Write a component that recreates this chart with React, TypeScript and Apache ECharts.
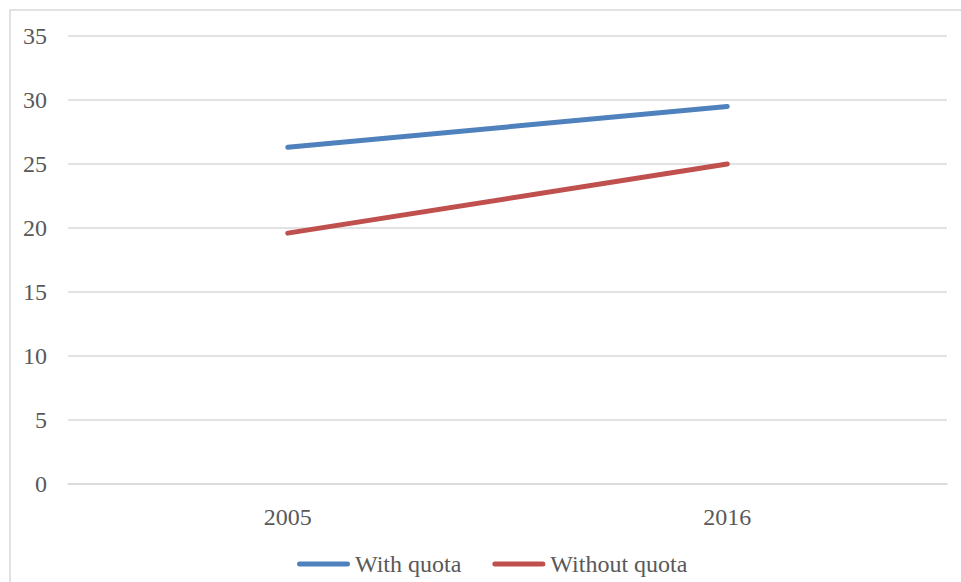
import React, { useEffect, useRef } from "react";
import * as echarts from "echarts";

const years = ["2005", "2016"];
const withQuota = [26.3, 29.5];
const withoutQuota = [19.6, 25.0];
const yTicks = { min: 0, max: 35, interval: 5 };

const FONT = "Liberation Serif";
const FONT_SIZE = 24;
const TEXT = "#595959";
const GRID = "#d9d9d9";
const BLUE = "#4f81bd";
const RED = "#c0504d";

const legendIcon =
  "path://M2.5,0 L50.5,0 A2.5,2.5 0 0 1 50.5,5 L2.5,5 A2.5,2.5 0 0 1 2.5,0 Z";

export default function App() {
  const ref = useRef<HTMLDivElement>(null);

  useEffect(() => {
    document.body.style.margin = "0";
    if (!ref.current) return;
    const chart = echarts.init(ref.current, undefined, { renderer: "svg" });
    const text = { fontFamily: FONT, fontSize: FONT_SIZE, color: TEXT };
    chart.setOption({
      animation: false,
      backgroundColor: "#ffffff",
      textStyle: { fontFamily: FONT },
      graphic: [
        {
          type: "rect",
          shape: { x: 10, y: 10, width: 1000, height: 1000 },
          style: { fill: "none", stroke: GRID, lineWidth: 1.5 },
          silent: true,
        },
      ],
      grid: { left: 68, right: 14, top: 36, bottom: 98, containLabel: false },
      legend: {
        left: 292,
        top: 547,
        itemWidth: 53,
        itemHeight: 5,
        itemGap: 31,
        icon: legendIcon,
        textStyle: { ...text, lineHeight: 24 },
        data: [
          { name: "With quota", itemStyle: { color: BLUE } },
          { name: "Without quota", itemStyle: { color: RED } },
        ],
      },
      xAxis: {
        type: "category",
        data: years,
        boundaryGap: true,
        axisLine: { show: true, lineStyle: { color: GRID, width: 1.5 } },
        axisTick: { show: false },
        axisLabel: { ...text, margin: 21, lineHeight: 24 },
      },
      yAxis: {
        type: "value",
        min: yTicks.min,
        max: yTicks.max,
        interval: yTicks.interval,
        axisLine: { show: false },
        axisTick: { show: false },
        axisLabel: { ...text, margin: 21 },
        splitLine: { lineStyle: { color: GRID, width: 1.5 } },
      },
      series: [
        {
          name: "With quota",
          type: "line",
          data: withQuota,
          showSymbol: false,
          symbol: "none",
          itemStyle: { color: BLUE },
          lineStyle: { color: BLUE, width: 5, cap: "round" },
        },
        {
          name: "Without quota",
          type: "line",
          data: withoutQuota,
          showSymbol: false,
          symbol: "none",
          itemStyle: { color: RED },
          lineStyle: { color: RED, width: 5, cap: "round" },
        },
      ],
    });
    return () => chart.dispose();
  }, []);

  return <div ref={ref} style={{ width: 961, height: 582 }} />;
}
